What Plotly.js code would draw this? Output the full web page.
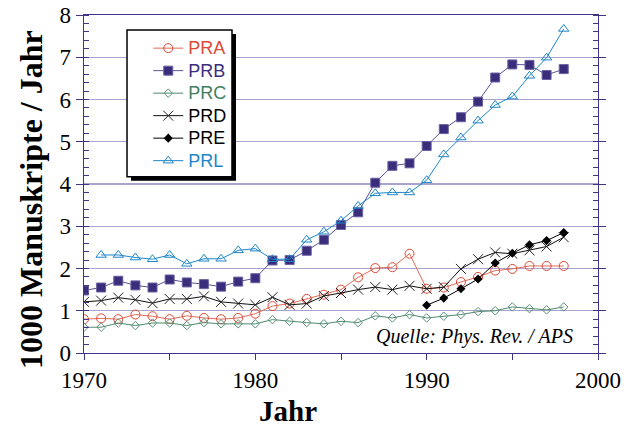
<!DOCTYPE html>
<html>
<head>
<meta charset="utf-8">
<script src="https://cdn.plot.ly/plotly-3.0.1.min.js"></script>
<style>html,body{margin:0;padding:0;background:#fff;}#chart{width:624px;height:430px;}</style>
</head>
<body>
<div id="chart"></div>
<script>
// Years
const yearsMain = [1970,1971,1972,1973,1974,1975,1976,1977,1978,1979,1980,1981,1982,1983,1984,1985,1986,1987,1988,1989,1990,1991,1992,1993,1994,1995,1996,1997,1998];
const yearsPRE = [1990,1991,1992,1993,1994,1995,1996,1997,1998];
const yearsPRL = [1971,1972,1973,1974,1975,1976,1977,1978,1979,1980,1981,1982,1983,1984,1985,1986,1987,1988,1989,1990,1991,1992,1993,1994,1995,1996,1997,1998];

// Series values (1000 manuscripts per year)
const PRA = [0.80,0.82,0.80,0.91,0.87,0.80,0.88,0.83,0.80,0.83,0.93,1.11,1.17,1.28,1.38,1.50,1.79,2.01,2.03,2.35,1.52,1.55,1.68,1.80,1.95,1.99,2.06,2.06,2.06];
const PRB = [1.48,1.55,1.71,1.60,1.55,1.74,1.67,1.63,1.57,1.69,1.77,2.19,2.20,2.42,2.68,3.03,3.33,4.03,4.43,4.49,4.90,5.30,5.58,5.95,6.52,6.83,6.82,6.58,6.72];
const PRC = [0.61,0.61,0.71,0.65,0.71,0.71,0.65,0.72,0.69,0.69,0.69,0.79,0.75,0.72,0.69,0.75,0.72,0.88,0.83,0.91,0.83,0.87,0.91,0.98,1.00,1.09,1.05,1.02,1.09];
const PRD = [1.21,1.24,1.31,1.26,1.18,1.28,1.28,1.34,1.21,1.17,1.14,1.32,1.14,1.17,1.35,1.42,1.50,1.56,1.50,1.59,1.52,1.56,1.99,2.22,2.38,2.35,2.43,2.52,2.74];
const PRE = [1.13,1.30,1.52,1.75,2.13,2.36,2.56,2.66,2.85];
const PRL = [2.32,2.32,2.26,2.22,2.32,2.11,2.23,2.23,2.43,2.47,2.22,2.22,2.68,2.87,3.13,3.48,3.78,3.80,3.80,4.09,4.70,5.10,5.50,5.87,6.07,6.56,6.99,7.67];

const xTicks = [1970,1980,1990,2000];
const seriesNames = ['PRA','PRB','PRC','PRD','PRE','PRL'];

const colA = '#dc4a36', colB = '#3a2d7c', colC = '#3f8060', colD = '#000000', colE = '#000000', colL = '#1e86c8';
function nm(n, c){ return '<span style="font-size:18px;color:' + c + '">' + n + '</span>'; }

const traces = [
  {x: yearsMain, y: PRA, name: nm(seriesNames[0], colA), mode:'lines+markers',
   line:{color:'#e06a58', width:1}, marker:{symbol:'circle-open', size:9, color:colA, line:{width:1}}},
  {x: yearsMain, y: PRB, name: nm(seriesNames[1], colB), mode:'lines+markers',
   line:{color:'#5c5296', width:1}, marker:{symbol:'square', size:9, color:colB, line:{width:1, color:'#6a62a0'}}},
  {x: yearsMain, y: PRC, name: nm(seriesNames[2], colC), mode:'lines+markers',
   line:{color:'#4f8a6e', width:1}, marker:{symbol:'diamond-open', size:6.5, color:'#5a9078', line:{width:1}}},
  {x: yearsMain, y: PRD, name: nm(seriesNames[3], colD), mode:'lines+markers',
   line:{color:'#111', width:1}, marker:{symbol:'x-thin-open', size:10, color:'#222', line:{width:1, color:'#222'}}},
  {x: yearsPRE, y: PRE, name: nm(seriesNames[4], colE), mode:'lines+markers',
   line:{color:'#000', width:1}, marker:{symbol:'diamond', size:7, color:'#000'}},
  {x: yearsPRL, y: PRL, name: nm(seriesNames[5], colL), mode:'lines+markers',
   line:{color:colL, width:1}, marker:{symbol:'triangle-up-open', size:9, color:colL, line:{width:1}}}
];

const axisCol = '#3e3488', gridCol = '#a9a4cc';
const serif = 'Liberation Serif, Times New Roman, serif';

const layout = {
  width: 624, height: 430,
  margin: {l:84, r:26, t:15, b:77, pad:0},
  paper_bgcolor:'#fff', plot_bgcolor:'#fff',
  showlegend: true,
  legend: {x: 0.125, y: 0.95, xanchor:'left', yanchor:'top', bgcolor:'rgba(0,0,0,0)', borderwidth:0,
           font:{family:'Liberation Sans, Arial, sans-serif', size:15, color:'#000'}, tracegroupgap:0},
  xaxis: {range:[1970,2000], tickvals: xTicks, ticks:'outside', ticklen:6, tickcolor:axisCol, tickwidth:1,
          showline:true, linecolor:axisCol, linewidth:1.3, mirror:true, showgrid:false, zeroline:false,
          tickfont:{family:serif, size:23, color:'#000'},
          minor:{dtick:5, ticks:'outside', ticklen:6, tickcolor:axisCol, showgrid:false}},
  yaxis: {range:[0,8], dtick:1, ticks:'outside', ticklen:7, tickcolor:axisCol, tickwidth:1,
          showline:true, linecolor:axisCol, linewidth:1.3, mirror:'ticks', showgrid:true, gridcolor:gridCol, gridwidth:1.2,
          zeroline:false, tickfont:{family:serif, size:23, color:'#000'},
          minor:{dtick:0.2, ticks:'inside', ticklen:5, tickcolor:axisCol, showgrid:false}},
  shapes: [
    {type:'rect', xref:'paper', yref:'paper', x0:0.0914, x1:0.2957, y0:0.5093, y1:0.9438, fillcolor:'#000', line:{width:0}, layer:'above'},
    {type:'rect', xref:'paper', yref:'paper', x0:0.0837, x1:0.2879, y0:0.5211, y1:0.9557, fillcolor:'#fff', line:{width:1.5, color:'#000'}, layer:'above'}
  ],
  annotations: [
    {text:'<b>Jahr</b>', xref:'paper', yref:'paper', x:0.397, y:-0.172, xanchor:'center', yanchor:'middle', showarrow:false,
     font:{family:serif, size:29, color:'#000'}},
    {text:'<b>1000 Manuskripte / Jahr</b>', xref:'paper', yref:'paper', x:-0.103, y:0.453, xanchor:'center', yanchor:'middle', showarrow:false, textangle:-90,
     font:{family:serif, size:32, color:'#000'}},
    {text:'<i>Quelle: Phys. Rev. / APS</i>', xref:'paper', yref:'paper', x:0.955, y:0.05, xanchor:'right', yanchor:'middle', showarrow:false,
     font:{family:serif, size:20, color:'#000'}}
  ]
};

Plotly.newPlot('chart', traces, layout, {displayModeBar:false, staticPlot:true});
</script>
</body>
</html>
